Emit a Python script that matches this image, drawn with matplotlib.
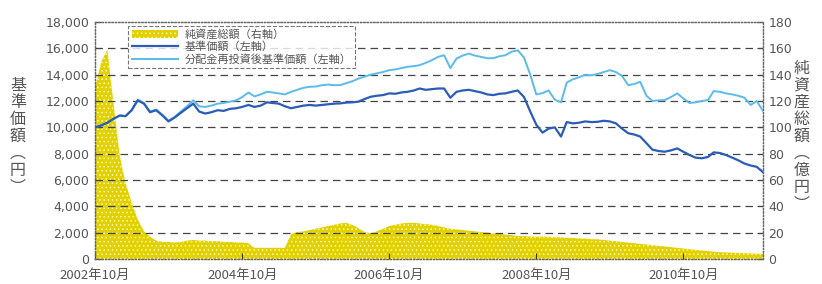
import pandas as pd
import matplotlib.pyplot as plt
from matplotlib.patches import Patch
from matplotlib.lines import Line2D

plt.rcParams['font.family'] = ['Noto Sans CJK JP', 'DejaVu Sans']
plt.rcParams['hatch.linewidth'] = 0.6

# monthly data, Oct 2002 - Nov 2011
start_month = '2002-10-01'

# 基準価額 (円)
nav = [10000, 10150, 10350, 10650, 10900, 10850, 11300, 12050, 11800, 11150,
       11300, 10900, 10450, 10750, 11100, 11450, 11800, 11200, 11050, 11150,
       11300, 11250, 11400, 11450, 11550, 11700, 11550, 11650, 11900, 11850,
       11800, 11600, 11450, 11550, 11650, 11700, 11650, 11700, 11750, 11800,
       11820, 11880, 11900, 11950, 12150, 12320, 12400, 12450, 12580, 12550,
       12650, 12700, 12800, 12950, 12850, 12900, 12950, 12950, 12250, 12700,
       12800, 12850, 12750, 12650, 12500, 12450, 12550, 12580, 12700, 12800,
       12300, 11200, 10200, 9600, 9900, 10000, 9300, 10400, 10300, 10350,
       10450, 10400, 10420, 10500, 10450, 10300, 9900, 9550, 9450, 9300,
       8800, 8300, 8200, 8150, 8250, 8400, 8150, 7900, 7700, 7650,
       7750, 8100, 8050, 7900, 7700, 7500, 7250, 7100, 7000, 6600]

# 分配金再投資後基準価額 (円)
nav_reinv = [10000, 10150, 10350, 10650, 10900, 10850, 11300, 12100, 11850, 11200,
             11350, 10950, 10500, 10800, 11200, 11600, 12050, 11600, 11550, 11650,
             11800, 11850, 11950, 12050, 12300, 12650, 12350, 12500, 12700, 12650,
             12580, 12500, 12700, 12850, 13000, 13080, 13100, 13200, 13250, 13200,
             13210, 13350, 13500, 13700, 13850, 14000, 14100, 14200, 14340, 14400,
             14500, 14600, 14650, 14720, 14900, 15100, 15350, 15480, 14500, 15230,
             15450, 15600, 15450, 15350, 15250, 15250, 15400, 15480, 15750, 15850,
             15300, 14000, 12500, 12600, 12800, 12100, 11900, 13400, 13650, 13800,
             14000, 13950, 14050, 14200, 14340, 14200, 13900, 13200, 13300, 13460,
             12400, 12000, 12050, 12070, 12300, 12580, 12200, 11850, 11900, 12000,
             12070, 12750, 12700, 12580, 12500, 12400, 12250, 11700, 12000, 11250]

# 純資産総額 (億円)
net_assets = [130, 150, 159, 118, 78, 58, 43, 30, 21, 17,
              14, 13, 13, 12.5, 13, 14, 14.5, 14, 14, 13.5,
              13.5, 13, 13, 12.5, 12.5, 12, 8.5, 8.5, 8.5, 8.5,
              8.5, 8.5, 19, 20.5, 21, 22, 23, 24, 25, 26,
              27, 27.5, 26, 23.5, 20.5, 19.5, 21, 23, 25, 26,
              27, 27.5, 27.5, 27, 26.5, 26, 25, 24, 23, 22.5,
              22, 21.5, 21, 20.5, 20, 19.5, 19, 18.5, 18, 17.5,
              17.5, 17, 17, 17, 17, 16.5, 16.5, 16, 16, 15.5,
              15.5, 15, 15, 14.5, 14, 13.5, 13, 12.5, 12, 11.5,
              11, 10.5, 10, 9.5, 9, 8.5, 8, 7.5, 7, 6.5,
              6, 5.5, 5.2, 5, 4.8, 4.6, 4.4, 4.2, 4.0, 4.0]

tick_dates = ['2002-10-01', '2004-10-01', '2006-10-01', '2008-10-01', '2010-10-01']
tick_labels = ['2002年10月', '2004年10月', '2006年10月', '2008年10月', '2010年10月']

dates = pd.date_range(start_month, periods=len(nav), freq='MS')

yellow = '#E2D100'
dot = '#FFF9B0'
dark_blue = '#2A5CB8'
light_blue = '#5BBBEA'
grey = '#555555'

fig = plt.figure(figsize=(8.22, 2.84), dpi=100)
ax = fig.add_axes([0.1156, 0.088, 0.8126, 0.8345])
ax2 = ax.twinx()

# net assets on the right axis, drawn behind the lines
ax2.fill_between(dates, net_assets, 0, facecolor=yellow, edgecolor=dot,
                 hatch='....', linewidth=0, zorder=1)
ax2.set_ylim(0, 180)
ax2.set_yticks(range(0, 181, 20))

ax.set_zorder(ax2.get_zorder() + 1)
ax.patch.set_visible(False)

for v in range(2000, 18000, 2000):
    ax.axhline(v, color='#444444', lw=0.9, ls=(0, (6, 4)), zorder=2)

ax.plot(dates, nav_reinv, color=light_blue, lw=1.4, zorder=3)
ax.plot(dates, nav, color=dark_blue, lw=1.6, zorder=4)

ax.set_ylim(0, 18000)
ax.set_yticks(range(0, 18001, 2000))
ax.set_yticklabels([f'{v:,}' for v in range(0, 18001, 2000)], family='DejaVu Sans')
ax.set_xlim(dates[0], dates[-1])
ax.set_xticks(pd.to_datetime(tick_dates))
ax.set_xticklabels(tick_labels)

for a in (ax, ax2):
    for s in a.spines.values():
        s.set_linestyle(':')
        s.set_color('#666666')
        s.set_linewidth(0.9)
    a.tick_params(labelsize=9, colors='#333333', labelcolor=grey, length=4,
                  width=0.8, direction='in', pad=4)
ax.tick_params(axis='x', labelsize=9.5, pad=7)
for t in ax2.get_yticklabels():
    t.set_family('DejaVu Sans')

handles = [Patch(facecolor=yellow, edgecolor=dot, hatch='....', lw=0),
           Line2D([], [], color=dark_blue, lw=1.6),
           Line2D([], [], color=light_blue, lw=1.4)]
labels = ['純資産総額（右軸）', '基準価額（左軸）', '分配金再投資後基準価額（左軸）']
leg = ax.legend(handles, labels, loc='upper left', bbox_to_anchor=(0.05, 0.985),
                fontsize=8, frameon=True, fancybox=False, borderpad=0.3,
                labelspacing=0.15, handlelength=4.2, handletextpad=0.6,
                borderaxespad=0)
leg.get_frame().set_edgecolor('#555555')
leg.get_frame().set_linewidth(0.8)
leg.get_frame().set_linestyle('--')
for t in leg.get_texts():
    t.set_color(grey)

fig.text(0.022, 0.52, '基\n準\n価\n額\n︵\n円\n︶', ha='center', va='center',
         fontsize=11.5, linespacing=1.0, color=grey)
fig.text(0.975, 0.52, '純\n資\n産\n総\n額\n︵\n億\n円\n︶', ha='center', va='center',
         fontsize=11.5, linespacing=1.0, color=grey)

fig.savefig('out.png', dpi=100)
